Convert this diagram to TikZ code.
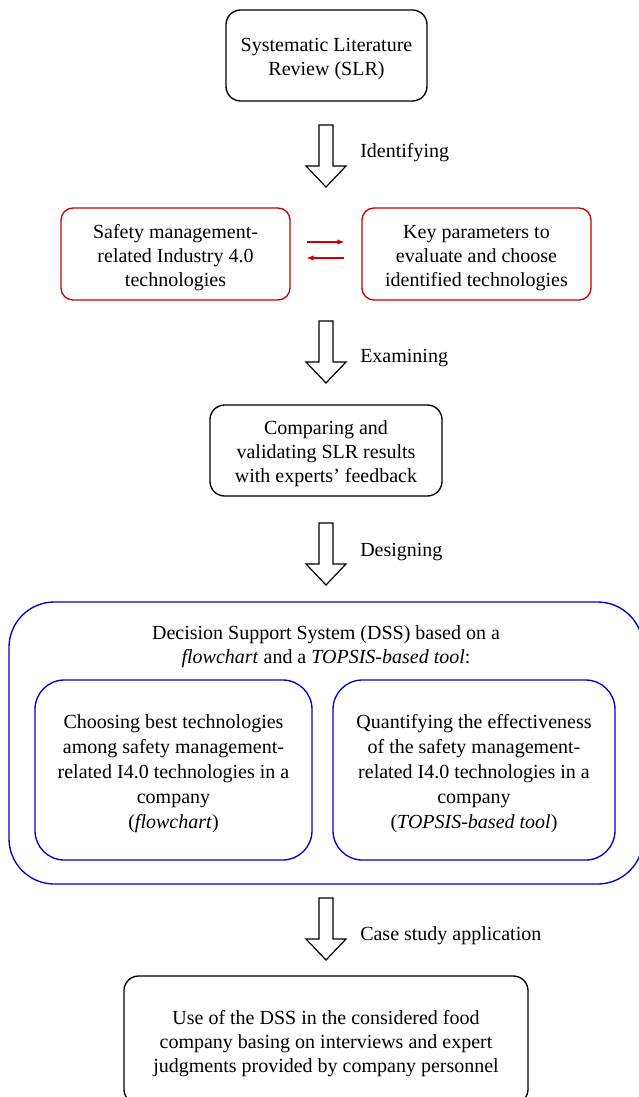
\documentclass[tikz,border=0pt]{standalone}
\usepackage{fontspec}
\setmainfont{Liberation Serif}
\usetikzlibrary{positioning}
\definecolor{boxRed}{RGB}{200,0,0}
\definecolor{boxBlue}{RGB}{0,0,200}
\newcommand{\topGap}{\rule{0pt}{15.5pt}}
\tikzset{
    hollowArrow/.pic={
		\draw[line width=0.9pt] (-7,0) -- (-7,41) -- (-20,41) -- (0,62) -- (20,41) -- (7,41) -- (7,0) -- cycle;
	}
}
\tikzset{
    blackBox/.style={draw, line width=1pt, rounded corners=11pt, align=center},
    redBox/.style={draw=boxRed, line width=1pt, rounded corners=9pt, align=center},
    blueBox/.style={draw=boxBlue, line width=1pt, rounded corners=#1, align=center},
    innerBox/.style={blueBox=22pt, font=\fontsize{15}{18.75}\selectfont},
    stepLabel/.style={anchor=base west, inner sep=0pt},
    redArrow/.style={draw=boxRed, line width=0.8pt, ->, >=latex}
}

\begin{document}
\begin{tikzpicture}[x=0.75pt, y=-0.75pt, font=\fontsize{15}{18}\selectfont]
			\clip (0,0) rectangle (639,1097);
			\node[blackBox, minimum width=150.75pt, minimum height=68.25pt] (slr) at (326.5,55.5) {\topGap Systematic Literature\\Review (SLR)};
			\pic (arrA) at (326,125) {hollowArrow};
			\node[stepLabel] (identLbl) at (360,157) {Identifying};
			\node[redBox, minimum width=171.75pt, minimum height=69pt] (tech) at (175.5,254) {\topGap Safety management-\\related Industry 4.0\\technologies};
			\node[redBox, minimum width=171.75pt, minimum height=69pt] (param) at (476.5,254) {\topGap Key parameters to\\evaluate and choose\\identified technologies};
			\draw[redArrow, shorten <=12pt, shorten >=12.75pt] ([yshift=9pt]tech.east) -- ([yshift=9pt]param.west);
			\draw[redArrow, shorten <=12.75pt, shorten >=12pt] ([yshift=-3pt]param.west) -- ([yshift=-3pt]tech.east);
			\pic (arrB) at (326,321) {hollowArrow};
			\node[stepLabel] (examLbl) at (360,362) {Examining};
			\node[blackBox, minimum width=174pt, minimum height=68.25pt] (valid) at (326,450.5) {\topGap Comparing and\\validating SLR results\\with experts' feedback};
			\pic (arrC) at (326,523) {hollowArrow};
			\node[stepLabel] (designLbl) at (360,556) {Designing};
			\node[blueBox=34pt, minimum width=475.5pt, minimum height=211.5pt] (dss) at (326,743) {};
			\node[align=center] (dssTitle) at (326,647) {Decision Support System (DSS) based on a\\\textit{flowchart} and a \textit{TOPSIS-based tool}:};
			\node[innerBox, minimum width=207.75pt, minimum height=135pt] (flow) at (173.5,770) {\topGap Choosing best technologies\\among safety management-\\related I4.0 technologies in a\\company\\(\textit{flowchart})};
			\node[innerBox, minimum width=211.5pt, minimum height=135pt] (topsis) at (474,770) {\topGap Quantifying the effectiveness\\of the safety management-\\related I4.0 technologies in a\\company\\(\textit{TOPSIS-based tool})};
			\pic (arrD) at (326,898) {hollowArrow};
			\node[stepLabel] (caseLbl) at (360,940) {Case study application};
			\node[blackBox, minimum width=303pt, minimum height=96pt] (use) at (326,1040) {\topGap Use of the DSS in the considered food\\company basing on interviews and expert\\judgments provided by company personnel};
		\end{tikzpicture}
\end{document}
